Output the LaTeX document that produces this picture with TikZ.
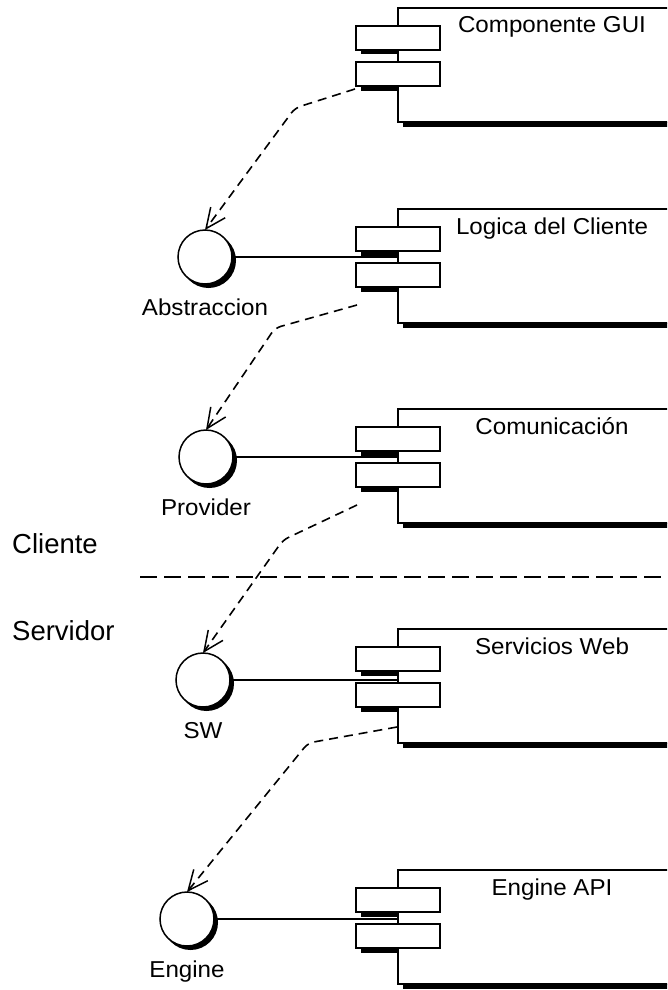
\documentclass[tikz,border=0pt]{standalone}
\usepackage{fontspec}
\setmainfont{Liberation Sans}
\newfontfamily\uifont[FakeStretch=1.05]{Liberation Sans}
\usetikzlibrary{arrows.meta,calc}
\tikzset{
  mainbox/.style={draw, line width=1.6pt, fill=white, minimum width=300pt, minimum height=114pt, anchor=north west, inner sep=0pt, outer sep=0pt},
  portbox/.style={draw, line width=1.6pt, fill=white, minimum width=84pt, minimum height=24pt, anchor=north west, inner sep=0pt, outer sep=0pt},
  ifc/.style={circle, draw, line width=1.5pt, fill=white, minimum size=54pt, inner sep=0pt, outer sep=0pt},
  uilabel/.style={font=\uifont\fontsize{23}{27}\selectfont, anchor=base, inner sep=0pt},
  sidelabel/.style={font=\fontsize{27.5}{32}\selectfont, anchor=base west, inner sep=0pt},
  dep/.style={line width=1.6pt, dash pattern=on 9pt off 6pt, rounded corners=6pt,
    -{Straight Barb[length=20pt,width=18pt,line width=1.5pt]}},
  link/.style={line width=1.6pt},
  sepline/.style={line width=2.2pt, dash pattern=on 17pt off 7pt},
}
\newcommand\compo[3]{%
  \fill[black] (361,#2+42) rectangle (399,#2+46.5);
  \fill[black] (361,#2+78) rectangle (399,#2+82.5);
  \fill[black] (403,#2+114) rectangle (700,#2+119);
  \node[mainbox] (#1) at (398,#2) {};
  \node[portbox] (#1a) at (356,#2+18) {};
  \node[portbox] (#1b) at (356,#2+54) {};
  \node[uilabel] (#1l) at (552,#2+25) {#3};
}
\newcommand\iface[4]{%
  \fill[black] (#2+3.5,#3+3.5) circle (27.5pt);
  \node[ifc] (#1) at (#2,#3) {};
  \node[uilabel] (#1l) at (#2,#3+58) {#4};
}
\begin{document}
\begin{tikzpicture}[x=1pt,y=-1pt]
\useasboundingbox (0,0) rectangle (667,990);
\clip (0,0) rectangle (667,990);
\fill[white] (0,0) rectangle (667,990);

\compo{gui}{8}{Componente GUI}
\compo{logica}{209}{Logica del Cliente}
\compo{comu}{409}{Comunicación}
\compo{serv}{629}{Servicios Web}
\compo{engapi}{870}{Engine API}

\iface{abs}{205}{257}{Abstraccion}
\iface{prov}{206}{457}{Provider}
\iface{sw}{203}{680}{SW}
\iface{eng}{187}{919}{Engine}

\draw[link] (abs.east) -- (abs.east -| logica.west);
\draw[link] (prov.east) -- (prov.east -| comu.west);
\draw[link] (sw.east) -- (sw.east -| serv.west);
\draw[link] (eng.east) -- (eng.east -| engapi.west);

\coordinate (d1s) at (355,89);  \coordinate (d1b) at (295,108);
\coordinate (d2s) at (357,305); \coordinate (d2b) at (275,328);
\coordinate (d3s) at (357,505); \coordinate (d3b) at (283,540);
\coordinate (d4s) at (397,727); \coordinate (d4b) at (308,743);
\draw[dep] (d1s) -- (d1b) -- (abs.north);
\draw[dep] (d2s) -- (d2b) -- (prov.north);
\draw[dep] (d3s) -- (d3b) -- (sw.north);
\draw[dep] (d4s) -- (d4b) -- (eng.north);

\node[sidelabel] (cli) at (12,553) {Cliente};
\node[sidelabel] (srv) at (12,640) {Servidor};
\coordinate (sepL) at (140,577);
\coordinate (sepR) at (667,577);
\draw[sepline] (sepL) -- (sepR);
\end{tikzpicture}
\end{document}
